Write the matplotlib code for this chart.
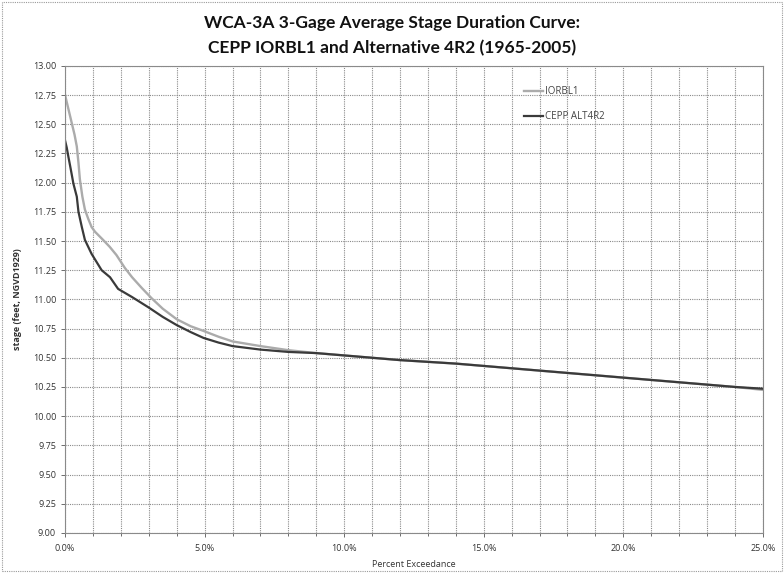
import matplotlib
matplotlib.use("Agg")
import matplotlib.pyplot as plt
from matplotlib.ticker import MultipleLocator, FuncFormatter
from matplotlib.patches import Rectangle

# Stage duration curves: percent exceedance vs. 3-gage average stage (ft NGVD1929)
iorbl1_pct = [0.0, 0.12, 0.24, 0.34, 0.42, 0.48, 0.53, 0.62, 0.71, 0.83, 0.95,
              1.07, 1.36, 1.6, 1.84, 2.14, 2.4, 2.74, 3.1, 3.5, 4.0, 4.5,
              4.96, 5.5, 6.0, 7.0, 8.0, 9.0, 10.0, 11.0, 12.0, 14.0, 16.0,
              18.0, 20.0, 22.0, 24.0, 25.0]
iorbl1_stage = [12.75, 12.63, 12.51, 12.41, 12.31, 12.17, 12.03, 11.88, 11.77,
                11.69, 11.62, 11.58, 11.51, 11.45, 11.38, 11.27, 11.19, 11.10,
                11.01, 10.92, 10.83, 10.77, 10.73, 10.68, 10.64, 10.60, 10.565,
                10.54, 10.52, 10.50, 10.48, 10.45, 10.41, 10.37, 10.33, 10.29,
                10.25, 10.225]

alt4r2_pct = [0.0, 0.06, 0.12, 0.2, 0.3, 0.42, 0.48, 0.6, 0.71, 0.95, 1.31,
              1.61, 1.9, 2.4, 3.0, 3.5, 4.0, 4.5, 4.96, 5.5, 6.0, 7.0, 8.0,
              9.0, 10.0, 11.0, 12.0, 14.0, 16.0, 18.0, 20.0, 22.0, 24.0, 25.0]
alt4r2_stage = [12.36, 12.30, 12.22, 12.12, 11.99, 11.88, 11.75, 11.62, 11.51,
                11.39, 11.25, 11.19, 11.09, 11.02, 10.93, 10.85, 10.78, 10.72,
                10.67, 10.63, 10.60, 10.57, 10.55, 10.54, 10.52, 10.50, 10.48,
                10.45, 10.41, 10.37, 10.33, 10.29, 10.25, 10.235]

series_names = ["IORBL1", "CEPP ALT4R2"]
title_lines = ["WCA-3A 3-Gage Average Stage Duration Curve:",
               "CEPP IORBL1 and Alternative 4R2 (1965-2005)"]

plt.rcParams["font.family"] = ["Open Sans", "DejaVu Sans"]

fig = plt.figure(figsize=(7.84, 5.73), dpi=100)
ax = fig.add_axes([0.083, 0.070, 0.890, 0.815])

ax.plot(iorbl1_pct, iorbl1_stage, color="#ababab", lw=1.7, label=series_names[0])
ax.plot(alt4r2_pct, alt4r2_stage, color="#3a3a3a", lw=1.6, label=series_names[1])

ax.set_xlim(0, 25)
ax.set_ylim(9.0, 13.0)
ax.xaxis.set_major_locator(MultipleLocator(5))
ax.xaxis.set_minor_locator(MultipleLocator(1))
ax.yaxis.set_major_locator(MultipleLocator(0.25))
ax.xaxis.set_major_formatter(FuncFormatter(lambda v, p: f"{v:.1f}%"))
ax.yaxis.set_major_formatter(FuncFormatter(lambda v, p: f"{v:.2f}"))

ax.grid(which="both", axis="x", color="#8a8a8a", ls=(0, (1, 1)), lw=0.8)
ax.grid(which="major", axis="y", color="#8a8a8a", ls=(0, (1, 1)), lw=0.8)
for s in ax.spines.values():
    s.set_color("#8a8a8a")
    s.set_linestyle((0, (1, 1)))
    s.set_linewidth(0.8)

ax.tick_params(axis="both", which="both", labelsize=6.5, colors="#555555",
               labelcolor="#333333", length=3, width=0.6)
ax.tick_params(axis="x", which="minor", length=2)
ax.tick_params(axis="x", which="major", pad=5)

ax.set_xlabel("Percent Exceedance", fontsize=6.5, color="#333333", labelpad=5)
ax.set_ylabel("stage (feet, NGVD1929)", fontsize=6.5, fontweight="bold",
              color="#333333", labelpad=8)

leg = ax.legend(loc="upper left", bbox_to_anchor=(0.645, 0.975), frameon=False,
                fontsize=7, handlelength=2.0, handletextpad=0.2,
                labelspacing=1.45, labelcolor="#444444")

fig.text(0.5, 0.960, title_lines[0], ha="center", va="center",
         fontsize=12.5, fontweight="bold", color="#111111", family="Lato")
fig.text(0.5, 0.916, title_lines[1], ha="center", va="center",
         fontsize=12.5, fontweight="bold", color="#111111", family="Lato")

fig.patches.append(Rectangle((0.003, 0.003), 0.994, 0.994, transform=fig.transFigure,
                             fill=False, ec="#9a9a9a", lw=0.8, ls=(0, (1, 1))))

fig.savefig("out.png", dpi=100, facecolor="white")
